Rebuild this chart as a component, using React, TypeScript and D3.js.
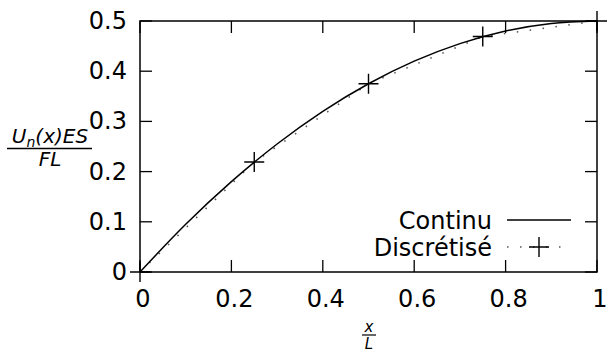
import React from "react";
import * as d3 from "d3";

// values
const xTicks = [0, 0.2, 0.4, 0.6, 0.8, 1];
const yTicks = [0, 0.1, 0.2, 0.3, 0.4, 0.5];
const xTickLabels = ["0", "0.2", "0.4", "0.6", "0.8", "1"];
const yTickLabels = ["0", "0.1", "0.2", "0.3", "0.4", "0.5"];

const continuX = [0, 0.1, 0.2, 0.3, 0.4, 0.5, 0.6, 0.7, 0.8, 0.9, 1];
const continuY = [0, 0.095, 0.18, 0.255, 0.32, 0.375, 0.42, 0.455, 0.48, 0.495, 0.5];

const discretX = [0, 0.25, 0.5, 0.75, 1];
const discretY = [0, 0.219, 0.375, 0.469, 0.5];

const seriesNames = ["Continu", "Discrétisé"];

const W = 607;
const H = 353;
const margin = { top: 21, right: 10, bottom: 81, left: 140 };
const FONT = "'DejaVu Sans', sans-serif";

export default function App() {
  const svgRef = React.useRef<SVGSVGElement>(null);

  React.useEffect(() => {
    const svg = d3.select(svgRef.current);
    svg.selectAll("*").remove();

    const iw = W - margin.left - margin.right;
    const ih = H - margin.top - margin.bottom;

    const x = d3.scaleLinear().domain([0, 1]).range([margin.left, margin.left + iw]);
    const y = d3.scaleLinear().domain([0, 0.5]).range([margin.top + ih, margin.top]);

    const g = svg.append("g");

    /* ticks, inward on all four sides */
    const tl = 12;
    xTicks.forEach((t) => {
      g.append("line").attr("x1", x(t)).attr("x2", x(t))
        .attr("y1", y(0)).attr("y2", y(0) - tl)
        .attr("stroke", "#000").attr("stroke-width", 1.3);
      g.append("line").attr("x1", x(t)).attr("x2", x(t))
        .attr("y1", y(0.5)).attr("y2", y(0.5) + tl)
        .attr("stroke", "#000").attr("stroke-width", 1.3);
    });
    yTicks.forEach((t) => {
      g.append("line").attr("x1", x(0)).attr("x2", x(0) + tl)
        .attr("y1", y(t)).attr("y2", y(t))
        .attr("stroke", "#000").attr("stroke-width", 1.3);
      g.append("line").attr("x1", x(1)).attr("x2", x(1) - tl)
        .attr("y1", y(t)).attr("y2", y(t))
        .attr("stroke", "#000").attr("stroke-width", 1.3);
    });

    /* tick labels */
    g.selectAll(".xl").data(xTicks).enter().append("text")
      .attr("x", (d) => x(d) + 3)
      .attr("y", y(0) + 35)
      .attr("text-anchor", "middle")
      .attr("font-family", FONT).attr("font-size", 24)
      .text((d, i) => xTickLabels[i]);

    g.selectAll(".yl").data(yTicks).enter().append("text")
      .attr("x", x(0) - 13)
      .attr("y", (d) => y(d) + 8)
      .attr("text-anchor", "end")
      .attr("font-family", FONT).attr("font-size", 24)
      .text((d, i) => yTickLabels[i]);

    /* series */
    const cont = continuX.map((v, i) => [v, continuY[i]] as [number, number]);
    const disc = discretX.map((v, i) => [v, discretY[i]] as [number, number]);

    g.append("path")
      .attr("d", d3.line().x((d) => x(d[0])).y((d) => y(d[1])).curve(d3.curveLinear)(disc))
      .attr("fill", "none").attr("stroke", "#555").attr("stroke-width", 1.5)
      .attr("stroke-dasharray", "1.5 11.5");

    g.append("path")
      .attr("d", d3.line().x((d) => x(d[0])).y((d) => y(d[1])).curve(d3.curveMonotoneX)(cont))
      .attr("fill", "none").attr("stroke", "#000").attr("stroke-width", 1.5);

    const ms = 10;
    const plus = (cx: number, cy: number) => {
      g.append("path")
        .attr("d", `M${cx - ms},${cy}H${cx + ms}M${cx},${cy - ms}V${cy + ms}`)
        .attr("stroke", "#000").attr("stroke-width", 1.4).attr("fill", "none");
    };
    disc.forEach((d) => plus(x(d[0]), y(d[1])));

    /* frame */
    g.append("rect")
      .attr("x", x(0)).attr("y", y(0.5))
      .attr("width", iw).attr("height", ih)
      .attr("fill", "none").attr("stroke", "#000").attr("stroke-width", 1.5);

    /* legend */
    const lx = 492;
    const rows = [220, 247];
    seriesNames.forEach((name, i) => {
      g.append("text")
        .attr("x", lx).attr("y", rows[i] + 9)
        .attr("text-anchor", "end")
        .attr("font-family", FONT).attr("font-size", 24)
        .text(name);
    });
    g.append("line").attr("x1", 507).attr("x2", 571)
      .attr("y1", rows[0]).attr("y2", rows[0])
      .attr("stroke", "#000").attr("stroke-width", 1.5);
    g.append("line").attr("x1", 507).attr("x2", 571)
      .attr("y1", rows[1]).attr("y2", rows[1])
      .attr("stroke", "#555").attr("stroke-width", 1.5)
      .attr("stroke-dasharray", "1.5 11.5");
    plus(539, rows[1]);

    /* y label: fraction */
    const yl = g.append("text")
      .attr("x", 50).attr("y", 143)
      .attr("text-anchor", "middle")
      .attr("font-family", FONT).attr("font-size", 20).attr("font-style", "italic");
    yl.append("tspan").text("U");
    yl.append("tspan").attr("font-size", 14).attr("dy", 4).text("n");
    yl.append("tspan").attr("dy", -4).text("(x)ES");
    g.append("line").attr("x1", 7).attr("x2", 92).attr("y1", 148.5).attr("y2", 148.5)
      .attr("stroke", "#000").attr("stroke-width", 1.3);
    g.append("text")
      .attr("x", 50).attr("y", 166)
      .attr("text-anchor", "middle")
      .attr("font-family", FONT).attr("font-size", 20).attr("font-style", "italic")
      .text("FL");

    /* x label: fraction */
    g.append("text")
      .attr("x", 369).attr("y", 332)
      .attr("text-anchor", "middle")
      .attr("font-family", FONT).attr("font-size", 15).attr("font-style", "italic")
      .text("x");
    g.append("line").attr("x1", 362).attr("x2", 376).attr("y1", 335).attr("y2", 335)
      .attr("stroke", "#000").attr("stroke-width", 1.2);
    g.append("text")
      .attr("x", 369).attr("y", 349)
      .attr("text-anchor", "middle")
      .attr("font-family", FONT).attr("font-size", 15).attr("font-style", "italic")
      .text("L");
  }, []);

  return (
    <svg
      ref={svgRef}
      width={W}
      height={H}
      style={{ position: "absolute", top: 0, left: 0, background: "#fff" }}
    />
  );
}
